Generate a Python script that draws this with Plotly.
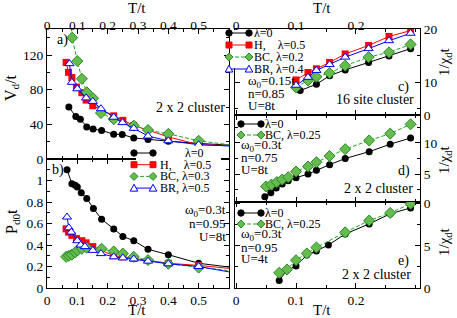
import plotly.graph_objects as go

W, H = 457, 318
FONT = "Liberation Serif"

# ---------------- data ----------------
# panel a) V_d/t vs T/t (2x2 cluster)
a_T_lam0 = [0.072, 0.095, 0.110, 0.131, 0.152, 0.180, 0.220, 0.248, 0.286, 0.333, 0.400, 0.500, 0.700]
a_V_lam0 = [60, 49, 46, 37, 34.5, 33, 28.5, 28.3, 24.3, 22.5, 20.5, 18, 14]
a_T_H = [0.063, 0.071, 0.082, 0.097, 0.115, 0.129, 0.151, 0.220, 0.250, 0.286, 0.400, 0.500, 0.700]
a_V_H = [111.5, 100, 94, 83, 76.5, 68, 61.5, 49.8, 44.6, 38.8, 25.5, 16.5, 14.5]
a_T_BC = [0.072, 0.083, 0.100, 0.115, 0.131, 0.152, 0.178, 0.220, 0.286, 0.333, 0.400, 0.500, 0.700]
a_V_BC = [200, 140, 113, 92.5, 77, 70, 53, 46, 38.5, 33.5, 29, 21, 12]
a_T_BR = [0.074, 0.082, 0.100, 0.129, 0.151, 0.178, 0.220, 0.249, 0.286, 0.333, 0.400, 0.500, 0.700]
a_V_BR = [110, 88.5, 81, 70.5, 66.5, 58, 48.2, 42, 35.4, 26.5, 21, 16.5, 13.5]

# panel b) P_d0 t vs T/t
b_T_lam0 = [0.066, 0.082, 0.093, 0.100, 0.113, 0.131, 0.153, 0.180, 0.220, 0.250, 0.286, 0.333, 0.400, 0.500, 0.700]
b_P_lam0 = [1.10, 0.97, 0.955, 0.94, 0.885, 0.833, 0.74, 0.64, 0.55, 0.48, 0.44, 0.36, 0.31, 0.23, 0.16]
b_T_H = [0.063, 0.071, 0.082, 0.097, 0.115, 0.129, 0.151, 0.220, 0.250, 0.286, 0.400, 0.500, 0.700]
b_P_H = [0.55, 0.52, 0.49, 0.46, 0.44, 0.42, 0.385, 0.30, 0.29, 0.275, 0.23, 0.21, 0.155]
b_T_BC = [0.063, 0.072, 0.082, 0.093, 0.100, 0.115, 0.131, 0.180, 0.220, 0.250, 0.286, 0.333, 0.400, 0.500, 0.700]
b_P_BC = [0.29, 0.30, 0.31, 0.33, 0.35, 0.365, 0.375, 0.365, 0.34, 0.32, 0.29, 0.26, 0.225, 0.19, 0.13]
b_T_BR = [0.066, 0.072, 0.080, 0.100, 0.111, 0.125, 0.151, 0.178, 0.220, 0.250, 0.286, 0.333, 0.400, 0.500, 0.700]
b_P_BR = [0.66, 0.56, 0.52, 0.44, 0.40, 0.385, 0.35, 0.32, 0.29, 0.28, 0.27, 0.25, 0.225, 0.20, 0.10]

# panel c) 1/chi_d t, 16 site cluster
c_T_lam0 = [0.107, 0.134, 0.156, 0.182, 0.221, 0.255, 0.291]
c_Y_lam0 = [8.4, 9.6, 11.2, 12.3, 13.7, 14.9, 16.3]
c_T_H = [0.100, 0.120, 0.134, 0.156, 0.182, 0.221, 0.255, 0.291]
c_Y_H = [10.4, 11.8, 12.5, 13.7, 15.3, 16.9, 18.6, 19.7]
c_T_BC = [0.100, 0.120, 0.134, 0.156, 0.182, 0.221, 0.255, 0.291]
c_Y_BC = [9.0, 10.3, 11.0, 11.7, 13.1, 14.7, 15.6, 17.1]
c_T_BR = [0.100, 0.120, 0.134, 0.156, 0.182, 0.221, 0.255, 0.291]
c_Y_BR = [9.4, 10.9, 12.2, 13.3, 14.7, 16.3, 17.8, 19.2]

# panel d) 1/chi_d t, n=0.75
d_T_lam0 = [0.048, 0.058, 0.067, 0.077, 0.087, 0.100, 0.120, 0.134, 0.156, 0.182, 0.222, 0.257, 0.291]
d_Y_lam0 = [1.35, 2.0, 2.75, 3.4, 3.9, 4.4, 5.0, 5.6, 6.5, 7.5, 8.6, 9.8, 10.8]
d_T_BC = [0.050, 0.059, 0.068, 0.077, 0.087, 0.100, 0.120, 0.134, 0.156, 0.182, 0.222, 0.257, 0.291]
d_Y_BC = [3.0, 3.3, 3.7, 4.1, 4.5, 5.4, 6.2, 6.9, 7.9, 9.0, 10.4, 11.5, 13.0]

# panel e) 1/chi_d t, n=0.95, U=4t
e_T_lam0 = [0.072, 0.085, 0.100, 0.118, 0.134, 0.154, 0.182, 0.222, 0.257, 0.291]
e_Y_lam0 = [0.9, 2.1, 2.6, 3.9, 4.4, 5.1, 6.4, 7.6, 8.8, 9.5]
e_T_BC = [0.072, 0.085, 0.100, 0.118, 0.134, 0.182, 0.222, 0.257, 0.291]
e_Y_BC = [1.8, 2.2, 3.3, 4.1, 4.8, 6.6, 8.0, 8.9, 10.0]

left_xticks = [0, 0.1, 0.2, 0.3, 0.4, 0.5]
right_xticks = [0, 0.1, 0.2]

# ---------------- styles ----------------
GREEN_LINE = "#1faa1f"
GREEN_FILL = "#66bb4f"
GREEN_EDGE = "#2a8a2a"
STY = {
    "lam0": dict(line=dict(color="black", width=1),
                 marker=dict(symbol="circle", size=7, color="black")),
    "H": dict(line=dict(color="#ff0000", width=1),
              marker=dict(symbol="square", size=7, color="#ff0000")),
    "BC": dict(line=dict(color=GREEN_LINE, width=1, dash="4px,2px"),
               marker=dict(symbol="diamond", size=8.5, color=GREEN_FILL,
                           line=dict(color=GREEN_EDGE, width=1))),
    "BR": dict(line=dict(color="#0000ff", width=1),
               marker=dict(symbol="triangle-up", size=8, color="white",
                           line=dict(color="#0000ff", width=1))),
}


def px(x):
    return x / W


def py(y):
    return 1 - y / H


fig = go.Figure()


def add(xs, ys, kind, xa, ya):
    s = STY[kind]
    fig.add_trace(go.Scatter(x=xs, y=ys, mode="lines+markers", xaxis=xa, yaxis=ya,
                             line=s["line"], marker=s["marker"], showlegend=False,
                             hoverinfo="skip"))


add(a_T_lam0, a_V_lam0, "lam0", "x", "y")
add(a_T_H, a_V_H, "H", "x", "y")
add(a_T_BC, a_V_BC, "BC", "x", "y")
add(a_T_BR, a_V_BR, "BR", "x", "y")
add(b_T_lam0, b_P_lam0, "lam0", "x2", "y2")
add(b_T_H, b_P_H, "H", "x2", "y2")
add(b_T_BC, b_P_BC, "BC", "x2", "y2")
add(b_T_BR, b_P_BR, "BR", "x2", "y2")
add(c_T_lam0, c_Y_lam0, "lam0", "x3", "y3")
add(c_T_H, c_Y_H, "H", "x3", "y3")
add(c_T_BC, c_Y_BC, "BC", "x3", "y3")
add(c_T_BR, c_Y_BR, "BR", "x3", "y3")
add(d_T_lam0, d_Y_lam0, "lam0", "x4", "y4")
add(d_T_BC, d_Y_BC, "BC", "x4", "y4")
add(e_T_lam0, e_Y_lam0, "lam0", "x5", "y5")
add(e_T_BC, e_Y_BC, "BC", "x5", "y5")


def ax(**kw):
    d = dict(showline=True, linecolor="black", linewidth=1, mirror="allticks",
             ticks="inside", ticklen=5, tickwidth=1, tickcolor="black",
             showgrid=False, zeroline=False, automargin=False,
             tickfont=dict(family=FONT, size=13.5, color="black"))
    d.update(kw)
    return d


def minor(dt):
    return dict(ticks="inside", ticklen=3, tickcolor="black", dtick=dt, tick0=0, showgrid=False)


LX = [px(47), px(229)]
RX = [px(235), px(420)]
lx_text = ["0" if v == 0 else ("%g" % v) for v in left_xticks]
rx_text = ["0" if v == 0 else ("%g" % v) for v in right_xticks]
TOP_SHIFT = -7

fig.update_layout(
    template="none",
    width=W, height=H, margin=dict(l=0, r=0, t=0, b=0, pad=0, autoexpand=False),
    paper_bgcolor="white", plot_bgcolor="white",
    font=dict(family=FONT, color="black"),
    xaxis=ax(domain=LX, range=[0, 0.6], anchor="y", side="top", tickmode="array",
             tickvals=left_xticks, ticktext=lx_text, minor=minor(0.05),
             ticklabelstandoff=TOP_SHIFT),
    yaxis=ax(domain=[py(159), py(29)], range=[0, 150], anchor="x", dtick=40, tick0=0,
             minor=minor(20)),
    xaxis2=ax(domain=LX, range=[0, 0.6], anchor="y2", side="bottom", tickmode="array",
              tickvals=left_xticks, ticktext=lx_text, minor=minor(0.05)),
    yaxis2=ax(domain=[py(288), py(159)], range=[0, 1.2], anchor="x2", tickmode="array",
              tickvals=[0, 0.2, 0.4, 0.6, 0.8, 1.0],
              ticktext=["0", "0.2", "0.4", "0.6", "0.8", "1"], minor=minor(0.1)),
    xaxis3=ax(domain=RX, range=[-0.0017, 0.3067], anchor="y3", side="top", tickmode="array",
              tickvals=right_xticks, ticktext=rx_text, minor=minor(0.05),
              ticklabelstandoff=TOP_SHIFT),
    yaxis3=ax(domain=[py(115), py(29)], range=[3.8, 20], anchor="x3", side="right",
              tickmode="array", tickvals=[10, 20], ticktext=["10", "20"], minor=minor(5)),
    xaxis4=ax(domain=RX, range=[-0.0017, 0.3067], anchor="y4", showticklabels=False,
              tickmode="array", tickvals=right_xticks, minor=minor(0.05)),
    yaxis4=ax(domain=[py(202), py(115)], range=[0.5, 14.5], anchor="x4", side="right",
              tickmode="array", tickvals=[5, 10, 14.5], ticktext=["5", "10", "0"],
              minor=minor(2.5)),
    xaxis5=ax(domain=RX, range=[-0.0017, 0.3067], anchor="y5", side="bottom", tickmode="array",
              tickvals=right_xticks, ticktext=rx_text, minor=minor(0.05)),
    yaxis5=ax(domain=[py(288), py(202)], range=[0, 10.2], anchor="x5", side="right",
              tickmode="array", tickvals=[0, 5, 10], ticktext=["0", "5", "0"],
              minor=minor(2.5)),
)

# ---------------- hand-drawn legends (xmgrace style) ----------------
shapes = []
annots = []


def rect_bg(x0, y0, x1, y1):
    shapes.append(dict(type="rect", xref="paper", yref="paper", layer="above",
                       x0=px(x0), x1=px(x1), y0=py(y1), y1=py(y0),
                       fillcolor="white", line=dict(width=0)))


def glyph(cx, cy, kind):
    if kind == "lam0":
        r = 3.2
        shapes.append(dict(type="circle", xref="paper", yref="paper", layer="above",
                           x0=px(cx - r), x1=px(cx + r), y0=py(cy + r), y1=py(cy - r),
                           fillcolor="black", line=dict(color="black", width=1)))
    elif kind == "H":
        r = 3.0
        shapes.append(dict(type="rect", xref="paper", yref="paper", layer="above",
                           x0=px(cx - r), x1=px(cx + r), y0=py(cy + r), y1=py(cy - r),
                           fillcolor="#ff0000", line=dict(color="#ff0000", width=1)))
    elif kind == "BC":
        r = 4.0
        pts = [(cx, cy - r), (cx + r, cy), (cx, cy + r), (cx - r, cy)]
        path = "M" + " L".join("%f,%f" % (px(a), py(b)) for a, b in pts) + " Z"
        shapes.append(dict(type="path", xref="paper", yref="paper", layer="above", path=path,
                           fillcolor=GREEN_FILL, line=dict(color=GREEN_EDGE, width=1)))
    else:
        r = 3.8
        pts = [(cx, cy - r), (cx + r, cy + r * 0.8), (cx - r, cy + r * 0.8)]
        path = "M" + " L".join("%f,%f" % (px(a), py(b)) for a, b in pts) + " Z"
        shapes.append(dict(type="path", xref="paper", yref="paper", layer="above", path=path,
                           fillcolor="white", line=dict(color="#0000ff", width=1)))


def entry(x0, x1, y, kind):
    s = STY[kind]
    shapes.append(dict(type="line", xref="paper", yref="paper", layer="above",
                       x0=px(x0), x1=px(x1), y0=py(y), y1=py(y),
                       line=dict(color=s["line"]["color"], width=1,
                                 dash=s["line"].get("dash", "solid"))))
    glyph(x0, y, kind)
    glyph(x1, y, kind)


def text(t, x, y, size=14, xanchor="left", angle=0):
    annots.append(dict(text=t, x=px(x), y=py(y), xref="paper", yref="paper",
                       xanchor=xanchor, yanchor="middle", showarrow=False, textangle=angle,
                       borderpad=0, font=dict(family=FONT, size=size, color="black")))


NB = "\u00a0"
LEG = 12
# left legend (panels a/b)
rect_bg(136, 146, 221, 193)
left_leg = [(153, "lam0", "λ=0", 184), (164.7, "H", "H," + NB * 4 + "λ=0.5", 159),
            (176.4, "BC", "BC, λ=0.3", 159), (188.1, "BR", "BR, λ=0.5", 159)]
for y, k, t, tx in left_leg:
    entry(134, 153, y, k)
    text(t, tx, y, LEG)

# panel c legend
rect_bg(230.5, 30, 300, 68)
c_leg = [(33, "lam0", "λ=0"), (45, "H", "H," + NB * 4 + "λ=0.5"),
         (57, "BC", "BC, λ=0.2"), (69, "BR", "BR, λ=0.4")]
for y, k, t in c_leg:
    entry(229, 249, y, k)
    text(t, 253, y, LEG)

# panel d and e legends
for ys, lab in (((124, 135), "BC, λ=0.25"), ((213, 224), "BC, λ=0.25")):
    entry(241, 261, ys[0], "lam0")
    text("λ=0", 264, ys[0], LEG)
    entry(241, 261, ys[1], "BC")
    text(lab, 264, ys[1], LEG)

# panel labels and parameters
PS = 13
text("a)", 56, 40, 14)
text("2 x 2 cluster", 190, 108, 14, "center")
text("b)", 51, 170, 14)
text("ω<sub>0</sub>=0.3t", 227, 210, PS, "right")
text("n=0.95", 227, 224, PS, "right")
text("U=8t", 227, 237, PS, "right")

text("ω<sub>0</sub>=0.15t", 247, 81, PS)
text("n=0.85", 247, 93, PS)
text("U=8t", 247, 105, PS)
text("c)", 397, 87, 14)
text("16 site cluster", 375, 100, 14, "center")

text("ω<sub>0</sub>=0.3t", 240, 145, PS)
text("n=0.75", 240, 157.5, PS)
text("U=8t", 240, 169, PS)
text("d)", 397, 171, 14)
text("2 x 2 cluster", 378, 188, 14, "center")

text("ω<sub>0</sub>=0.3t", 240, 235, PS)
text("n=0.95", 240, 247, PS)
text("U=4t", 240, 258, PS)
text("e)", 397, 261, 14)
text("2 x 2 cluster", 376, 274, 14, "center")

# axis titles
text("T/t", 137, 8, 15, "center")
text("T/t", 137, 310, 15, "center")
text("T/t", 322, 8, 15, "center")
text("T/t", 322, 310, 15, "center")
text("V<sub>d</sub>/t", 12, 88, 16, "center", -90)
text("P<sub>d0</sub>t", 12, 222, 16, "center", -90)
text("1/χ<sub>d</sub>t", 445, 62, 15, "center", -90)
text("1/χ<sub>d</sub>t", 445, 160, 15, "center", -90)
text("1/χ<sub>d</sub>t", 445, 242, 15, "center", -90)

fig.update_layout(shapes=shapes, annotations=annots)
# the page's default 8px body margin would shift the whole figure; remove it
fig.write_html("out.html", config={"displayModeBar": False},
               post_script="document.body.style.margin='0';document.body.style.padding='0';")
